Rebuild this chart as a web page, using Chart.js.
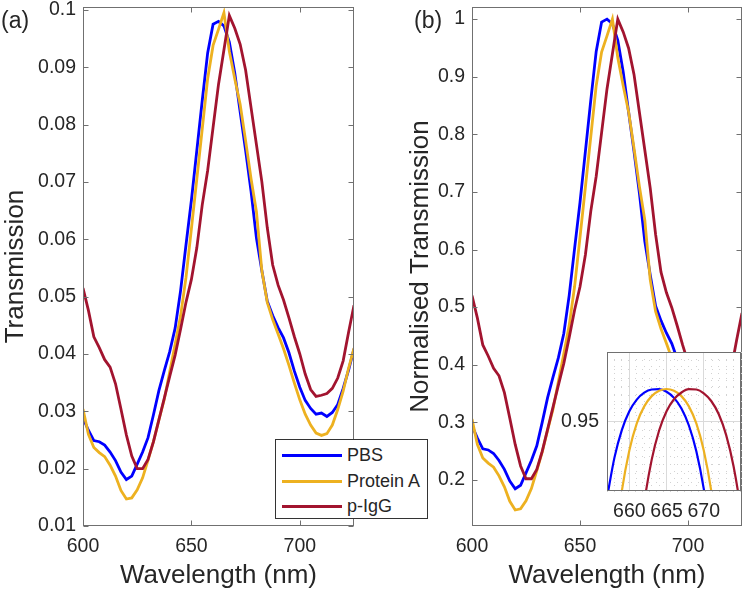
<!DOCTYPE html>
<html>
<head>
<meta charset="utf-8">
<script src="https://cdn.jsdelivr.net/npm/chart.js@4.4.0/dist/chart.umd.min.js"></script>
<style>
    html, body { margin: 0; padding: 0; background: #fff; }
    #wrap { position: relative; width: 747px; height: 593px; overflow: hidden; font-family: "Liberation Sans", Arial, sans-serif; color: #262626; }
    #wrap canvas { position: absolute; }
    #chartA { left: 0; top: 0; }
    #chartB { left: 370px; top: 0; }
    #inset { left: 555px; top: 345px; }
    .panel-label { position: absolute; top: 6px; font-size: 23px; line-height: 28px; }
    #legend { position: absolute; left: 275px; top: 439px; width: 151px; height: 78px; border: 1px solid #333; background: #fff; }
    #legend .row { position: absolute; left: 0; height: 24px; width: 151px; }
    #legend .swatch { position: absolute; left: 6px; top: 11px; width: 60px; height: 3px; }
    #legend .txt { position: absolute; left: 71px; top: 0; font-size: 18px; line-height: 24px; white-space: nowrap; }
</style>
</head>
<body>
<div id="wrap">
    <canvas id="chartA" width="370" height="593"></canvas>
    <canvas id="chartB" width="377" height="593"></canvas>
    <canvas id="inset" width="192" height="185"></canvas>
    <div class="panel-label" style="left:1px">(a)</div>
    <div class="panel-label" style="left:414px">(b)</div>
    <div id="legend"></div>
</div>
<script>
// wavelength grid (nm)
const wavelength = [600, 602.5, 605, 607.5, 610, 612.5, 615, 617.5, 620, 622.5, 625, 627.5, 630, 632.5, 635, 637.5, 640, 642.5, 645, 647.5,
    650, 652.5, 655, 657.5, 660, 662.5, 665, 667.5, 670, 672.5, 675, 677.5, 680, 682.5, 685, 687.5, 690, 692.5, 695, 697.5,
    700, 702.5, 705, 707.5, 710, 712.5, 715, 717.5, 720, 722.5, 725];

// transmission
const pbs = [0.0288, 0.0267, 0.0249, 0.0247, 0.0241, 0.0229, 0.0214, 0.0194, 0.0181, 0.0187, 0.0208, 0.0229, 0.0254, 0.0294, 0.0336, 0.0371, 0.0404, 0.0445, 0.0510, 0.0590,
    0.0668, 0.0755, 0.0842, 0.0925, 0.0975, 0.0980, 0.0972, 0.0944, 0.0890, 0.0822, 0.0755, 0.0684, 0.0602, 0.0545, 0.0492, 0.0467, 0.0446, 0.0428, 0.0402, 0.0370,
    0.0342, 0.0319, 0.0305, 0.0295, 0.0297, 0.0291, 0.0298, 0.0312, 0.0340, 0.0372, 0.0409];
const proteinA = [0.0304, 0.0260, 0.0237, 0.0228, 0.0221, 0.0206, 0.0187, 0.0162, 0.0147, 0.0149, 0.0163, 0.0184, 0.0215, 0.0247, 0.0285, 0.0321, 0.0369, 0.0417, 0.0466, 0.0533,
    0.0618, 0.0705, 0.0792, 0.0880, 0.0938, 0.0966, 0.0995, 0.0928, 0.0880, 0.0835, 0.0772, 0.0706, 0.0648, 0.0545, 0.0490, 0.0460, 0.0435, 0.0409, 0.0380, 0.0349,
    0.0320, 0.0295, 0.0276, 0.0262, 0.0258, 0.0261, 0.0276, 0.0303, 0.0335, 0.0375, 0.0410];
const pIgG = [0.0515, 0.0476, 0.0430, 0.0411, 0.0390, 0.0377, 0.0348, 0.0304, 0.0259, 0.0222, 0.0200, 0.0200, 0.0216, 0.0247, 0.0285, 0.0323, 0.0361, 0.0398, 0.0443, 0.0490,
    0.0530, 0.0585, 0.0660, 0.0720, 0.0795, 0.0870, 0.0930, 0.0990, 0.0968, 0.0940, 0.0895, 0.0830, 0.0765, 0.0700, 0.0620, 0.0555, 0.0520, 0.0494, 0.0463, 0.0430,
    0.0400, 0.0365, 0.0338, 0.0326, 0.0328, 0.0331, 0.0340, 0.0358, 0.0388, 0.0438, 0.0485];

// inset: fitted peaks (normalised)
const insetWavelength = [657, 658, 659, 660, 661, 662, 663, 664, 665, 666, 667, 668, 669, 670, 671, 672, 673, 674, 675, 676];
const insetPbs = [0.9060, 0.9292, 0.9452, 0.9559, 0.9626, 0.9666, 0.9684, 0.9686, 0.9671, 0.9636, 0.9575, 0.9477, 0.9329, 0.9112, 0.8808, null, null, null, null, null];
const insetProteinA = [null, 0.8771, 0.9102, 0.9333, 0.9489, 0.9587, 0.9646, 0.9677, 0.9687, 0.9677, 0.9646, 0.9587, 0.9489, 0.9333, 0.9102, 0.8771, null, null, null, null];
const insetPIgG = [null, null, null, null, 0.8682, 0.9032, 0.9279, 0.9448, 0.9559, 0.9628, 0.9667, 0.9686, 0.9684, 0.9662, 0.9618, 0.9543, 0.9423, 0.9242, 0.8979, 0.8607];

const seriesNames = ['PBS', 'Protein A', 'p-IgG'];
const seriesColors = ['#0000ff', '#edb120', '#a2142f'];

// tick labels
const xTicks = [600, 650, 700];
const yTicksA = [0.01, 0.02, 0.03, 0.04, 0.05, 0.06, 0.07, 0.08, 0.09, 0.1];
const yTicksB = [0.2, 0.3, 0.4, 0.5, 0.6, 0.7, 0.8, 0.9, 1];
const insetXLabels = [660, 665, 670];
const insetYLabels = [0.95];

const FONT = '"Liberation Sans", Arial, Helvetica, sans-serif';
const TXT = '#262626';

function normalise(arr) {
    const m = Math.max(...arr);
    return arr.map(v => v / m);
}
function points(xs, ys) {
    return xs.map((x, i) => ({ x: x, y: ys[i] }));
}
// fix axis sizes so the plot boxes sit where they do in the figure
function fixX(h) {
    return s => { s.height = h; s.paddingLeft = 0; s.paddingRight = 0; };
}
function fixY(w) {
    return s => { s.width = w; s.paddingTop = 0; s.paddingBottom = 0; };
}

// box around the axes with inward tick marks
const frame = {
    id: 'frame',
    beforeDraw(chart, args, opts) {
        if (!opts.fill) return;
        const a = chart.chartArea;
        chart.ctx.save();
        chart.ctx.fillStyle = opts.fill;
        chart.ctx.fillRect(a.left, a.top, a.right - a.left, a.bottom - a.top);
        chart.ctx.restore();
    },
    afterDraw(chart, args, opts) {
        const { ctx, chartArea: a, scales } = chart;
        const L = Math.round(a.left) + 0.5, R = Math.round(a.right) - 0.5;
        const T = Math.round(a.top) + 0.5, B = Math.round(a.bottom) - 0.5;
        ctx.save();
        ctx.strokeStyle = opts.color || '#707070';
        ctx.lineWidth = 1;
        ctx.strokeRect(L, T, R - L, B - T);
        const len = opts.tick || 0;
        if (len) {
            ctx.beginPath();
            scales.x.ticks.forEach(t => {
                const px = Math.round(scales.x.getPixelForValue(t.value)) + 0.5;
                ctx.moveTo(px, B); ctx.lineTo(px, B - len);
                ctx.moveTo(px, T); ctx.lineTo(px, T + len);
            });
            scales.y.ticks.forEach(t => {
                const py = Math.round(scales.y.getPixelForValue(t.value)) + 0.5;
                ctx.moveTo(L, py); ctx.lineTo(L + len, py);
                ctx.moveTo(R, py); ctx.lineTo(R - len, py);
            });
            ctx.stroke();
        }
        ctx.restore();
    }
};

function mainDatasets(series) {
    return series.map((ys, i) => ({
        label: seriesNames[i],
        data: points(wavelength, ys),
        borderColor: seriesColors[i],
        borderWidth: 2.8,
        pointRadius: 0,
        tension: 0,
        order: 2 - i
    }));
}

function mainOptions(yMin, yMax, yTicks, yTitle, yWidth, rightPad, titlePad, fmt) {
    return {
        responsive: false,
        animation: false,
        devicePixelRatio: 1,
        layout: { padding: { top: 7, right: rightPad, left: 0, bottom: 0 } },
        plugins: {
            legend: { display: false },
            tooltip: { enabled: false },
            frame: { tick: 5 }
        },
        scales: {
            x: {
                type: 'linear',
                min: 600,
                max: 725,
                afterBuildTicks: s => { s.ticks = xTicks.map(v => ({ value: v })); },
                afterFit: fixX(67),
                grid: { display: false, drawTicks: false },
                border: { display: false },
                ticks: { color: TXT, font: { family: FONT, size: 19.5 }, padding: 9, maxRotation: 0 },
                title: { display: true, text: 'Wavelength (nm)', color: TXT, font: { family: FONT, size: 26 }, padding: { top: 0, bottom: 2 } }
            },
            y: {
                min: yMin,
                max: yMax,
                afterBuildTicks: s => { s.ticks = yTicks.map(v => ({ value: v })); },
                afterFit: fixY(yWidth),
                grid: { display: false, drawTicks: false },
                border: { display: false },
                ticks: { color: TXT, font: { family: FONT, size: 19.5 }, padding: 7, callback: fmt },
                title: { display: true, text: yTitle, color: TXT, font: { family: FONT, size: 26 }, padding: { top: titlePad, bottom: 0 } }
            }
        }
    };
}

new Chart(document.getElementById('chartA'), {
    type: 'line',
    data: { datasets: mainDatasets([pbs, proteinA, pIgG]) },
    options: mainOptions(0.01, 0.1005, yTicksA, 'Transmission', 83, 16, 0, v => String(Number(v.toFixed(2)))),
    plugins: [frame]
});

new Chart(document.getElementById('chartB'), {
    type: 'line',
    data: { datasets: mainDatasets([normalise(pbs), normalise(proteinA), normalise(pIgG)]) },
    options: mainOptions(0.12, 1.021, yTicksB, 'Normalised Transmission', 102, 5, 35, v => String(Number(v.toFixed(1)))),
    plugins: [frame]
});

// inset
const insetSeries = [insetPbs, insetProteinA, insetPIgG];
const isMajor = (v, list) => list.some(m => Math.abs(m - v) < 1e-6);
new Chart(document.getElementById('inset'), {
    type: 'line',
    data: {
        datasets: insetSeries.map((ys, i) => ({
            label: seriesNames[i],
            data: points(insetWavelength, ys),
            borderColor: seriesColors[i],
            borderWidth: 2.2,
            pointRadius: 0,
            cubicInterpolationMode: 'monotone',
            spanGaps: false,
            order: 2 - i
        }))
    },
    options: {
        responsive: false,
        animation: false,
        devicePixelRatio: 1,
        layout: { padding: { top: 7, right: 6, left: 0, bottom: 0 } },
        plugins: {
            legend: { display: false },
            tooltip: { enabled: false },
            frame: { tick: 0, fill: '#ffffff' }
        },
        scales: {
            x: {
                type: 'linear',
                min: 657,
                max: 675,
                afterBuildTicks: s => { const t = []; for (let v = 657; v <= 675; v++) t.push({ value: v }); s.ticks = t; },
                afterFit: fixX(39),
                grid: {
                    drawTicks: false,
                    color: c => isMajor(c.tick.value, insetXLabels) ? '#dadada' : '#d2d2d2',
                    lineWidth: 1
                },
                border: { display: false, dash: c => isMajor(c.tick.value, insetXLabels) ? [] : [1, 6] },
                ticks: {
                    autoSkip: false, maxRotation: 0, color: TXT, font: { family: FONT, size: 19.5 }, padding: 9,
                    callback: v => isMajor(v, insetXLabels) ? String(v) : ''
                }
            },
            y: {
                min: 0.91,
                max: 0.99,
                afterBuildTicks: s => { const t = []; for (let k = 0; k <= 16; k++) t.push({ value: 0.91 + k * 0.005 }); s.ticks = t; },
                afterFit: fixY(52),
                grid: {
                    drawTicks: false,
                    color: c => isMajor(c.tick.value, insetYLabels) ? '#dadada' : '#d2d2d2',
                    lineWidth: 1
                },
                border: { display: false, dash: c => isMajor(c.tick.value, insetYLabels) ? [] : [1, 6] },
                ticks: {
                    autoSkip: false, color: TXT, font: { family: FONT, size: 19.5 }, padding: 8,
                    callback: v => isMajor(v, insetYLabels) ? v.toFixed(2) : ''
                }
            }
        }
    },
    plugins: [frame]
});

// legend box
const legend = document.getElementById('legend');
seriesNames.forEach((name, i) => {
    const row = document.createElement('div');
    row.className = 'row';
    row.style.top = (3 + i * 25.5) + 'px';
    row.innerHTML = '<span class="swatch" style="background:' + seriesColors[i] + '"></span><span class="txt">' + name + '</span>';
    legend.appendChild(row);
});
</script>
</body>
</html>
